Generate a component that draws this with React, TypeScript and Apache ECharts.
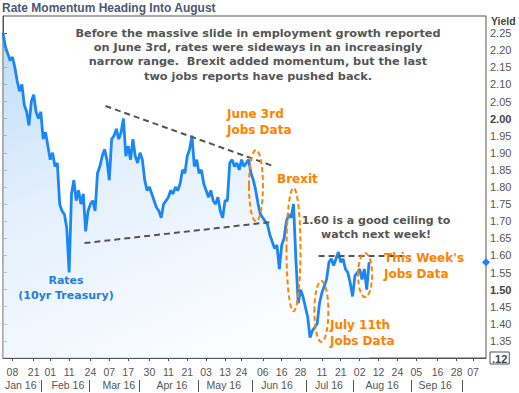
import React, { useEffect, useRef } from "react";
import * as echarts from "echarts";

// Weekday index 0 = Mon Jan 4 2016 (weekends skipped)
const yields = [
  2.25, 2.21, 2.19, 2.17, 2.18, 2.15, 2.11, 2.08, 2.10, 2.04,
  2.02, 1.98, 2.05, 2.07, 2.02, 2.00, 2.02, 1.94, 1.96, 1.92,
  1.88, 1.90, 1.86, 1.87, 1.75, 1.73, 1.72, 1.68, 1.55, 1.78,
  1.82, 1.76, 1.79, 1.75, 1.78, 1.67, 1.73, 1.75, 1.76, 1.73,
  1.84, 1.86, 1.89, 1.91, 1.88, 1.82, 1.94, 1.95, 1.97, 1.94,
  1.96, 2.00, 1.89, 1.92, 1.88, 1.94, 1.89, 1.87, 1.90, 1.88,
  1.82, 1.79, 1.80, 1.78, 1.76, 1.74, 1.73, 1.71, 1.75, 1.76,
  1.77, 1.79, 1.78, 1.80, 1.79, 1.81, 1.85, 1.84, 1.89, 1.91,
  1.95, 1.86, 1.88, 1.84, 1.85, 1.81, 1.79, 1.77, 1.79, 1.76,
  1.75, 1.77, 1.73, 1.71, 1.76, 1.76, 1.87, 1.88, 1.86, 1.87,
  1.85, 1.88, 1.86, 1.87, 1.88, 1.84, 1.82, 1.79, 1.75, 1.72,
  1.71, 1.70, 1.69, 1.66, 1.64, 1.62, 1.63, 1.56, 1.63, 1.65,
  1.70, 1.72, 1.71, 1.75, 1.59, 1.46, 1.50, 1.48, 1.45, 1.42,
  1.36, 1.38, 1.39, 1.40, 1.46, 1.49, 1.51, 1.53, 1.58, 1.59,
  1.57, 1.59, 1.61, 1.58, 1.59, 1.56, 1.55, 1.52, 1.48, 1.54,
  1.55, 1.56, 1.53, 1.56, 1.50, 1.58,
];

const dateTickIdx = [4, 13, 20, 28, 37, 45, 53, 62, 70, 78, 86, 94, 101, 110, 118, 126, 135, 143, 151, 159, 167, 175, 184, 192, 199];
const dateTickLabels = ["08", "21", "01", "11", "24", "07", "17", "30", "11", "21", "03", "13", "24", "06", "16", "28", "11", "21", "02", "12", "24", "05", "16", "28", "07"];
const monthLabelIdx = [7.5, 27.5, 49, 71.5, 93.5, 116, 138, 160.5, 183];
const monthLabels = ["Jan 16", "Feb 16", "Mar 16", "Apr 16", "May 16", "Jun 16", "Jul 16", "Aug 16", "Sep 16"];
const monthSepIdx = [16, 36.5, 57.5, 82.5, 105.5, 128.5, 148.5, 173, 194.5];

const X_MIN = 0;
const X_MAX = 204.5;
const Y_MIN = 1.3;
const Y_MAX = 2.3;

// trend lines [w1, v1, w2, v2]
const upperTrend = [43.4, 2.037, 114.5, 1.861];
const lowerTrend = [34.5, 1.636, 114.1, 1.698];
const ceilingLine = [133.6, 1.6, 172.5, 1.6];

// highlighted events: weekday index, top and bottom yields
const eventEllipses = [
  { w: 107.1, top: 1.908, bottom: 1.7 },
  { w: 123, top: 1.797, bottom: 1.437 },
  { w: 134.8, top: 1.525, bottom: 1.347 },
  { w: 153.3, top: 1.607, bottom: 1.478 },
];

const ORANGE = "#ff8200";
const GRAY = "#555555";
const BLUE = "#1a87f5";
const AX_FONT = "Liberation Sans";
const BOLD_FONT = "DejaVu Sans";

export default function App() {
  const ref = useRef<HTMLDivElement>(null);
  useEffect(() => {
    const chart = echarts.init(ref.current!, undefined, { renderer: "svg" });
    const dayMap = new Map(dateTickIdx.map((v, i) => [v, dateTickLabels[i]]));
    const monMap = new Map(monthLabelIdx.map((v, i) => [v, monthLabels[i]]));
    const last = yields[yields.length - 1];

    const option: any = {
      animation: false,
      backgroundColor: "#ffffff",
      grid: {
        left: 3,
        right: 33,
        top: 16,
        bottom: 35,
        show: true,
        borderColor: GRAY,
        borderWidth: 1,
        backgroundColor: "transparent",
      },
      xAxis: [
        {
          type: "value",
          min: X_MIN,
          max: X_MAX,
          axisLine: { show: true, lineStyle: { color: GRAY } },
          splitLine: { show: false },
          axisTick: { show: true, customValues: dateTickIdx, length: 3, lineStyle: { color: GRAY } },
          axisLabel: {
            customValues: dateTickIdx,
            formatter: (v: number) => dayMap.get(v) ?? "",
            color: GRAY,
            fontFamily: AX_FONT,
            fontSize: 10.5,
            margin: 8,
          },
        },
        {
          type: "value",
          min: X_MIN,
          max: X_MAX,
          position: "bottom",
          offset: 22,
          axisLine: { show: false },
          splitLine: { show: false },
          axisTick: { show: true, customValues: monthSepIdx, length: 12, lineStyle: { color: GRAY } },
          axisLabel: {
            customValues: monthLabelIdx,
            formatter: (v: number) => monMap.get(v) ?? "",
            color: GRAY,
            fontFamily: AX_FONT,
            fontSize: 10.5,
            margin: 5,
            verticalAlign: "middle",
          },
        },
      ],
      yAxis: {
        type: "value",
        position: "right",
        min: Y_MIN,
        max: Y_MAX,
        interval: 0.05,
        axisLine: { show: true, lineStyle: { color: GRAY } },
        splitLine: { show: false },
        axisTick: { show: true, length: 4, lineStyle: { color: GRAY } },
        axisLabel: {
          showMaxLabel: false,
          margin: 4,
          color: GRAY,
          fontFamily: AX_FONT,
          fontSize: 11,
          formatter: (v: number) => {
            if (Math.abs(v - 1.3) < 1e-6) return "{box|.12}";
            if (Math.abs(v - 2.0) < 1e-6 || Math.abs(v - 1.5) < 1e-6) return "{b|" + v.toFixed(2) + "}";
            return v.toFixed(2);
          },
          rich: {
            b: { fontWeight: "bold", color: "#444", fontFamily: AX_FONT, fontSize: 11 },
            box: {
              fontWeight: "bold",
              color: "#444",
              fontFamily: AX_FONT,
              fontSize: 11,
              borderColor: GRAY,
              borderWidth: 1,
              padding: [1, 2, 0, 2],
            },
          },
        },
      },
      series: [
        {
          type: "line",
          data: yields.map((v, i) => [i, v]),
          symbol: "none",
          lineStyle: { color: BLUE, width: 2.8 },
          areaStyle: {
            color: new echarts.graphic.LinearGradient(0, 0, 0.5, 1, [
              { offset: 0, color: "#a4cdf6" },
              { offset: 0.45, color: "#d7e9fb" },
              { offset: 1, color: "#f8fbff" },
            ]),
          },
          markLine: {
            silent: true,
            symbol: "none",
            label: { show: false },
            lineStyle: { color: GRAY, type: [6, 4], width: 2 },
            data: [upperTrend, lowerTrend, ceilingLine].map((t) => [
              { coord: [t[0], t[1]] },
              { coord: [t[2], t[3]] },
            ]),
          },
          markPoint: {
            silent: true,
            symbol: "diamond",
            symbolSize: 8,
            itemStyle: { color: BLUE },
            label: { show: false },
            data: [{ coord: [X_MAX, last] }],
          },
        },
      ],
    };
    chart.setOption(option);

    const px = (w: number, v: number) => chart.convertToPixel({ seriesIndex: 0 }, [w, v]) as number[];
    const ellipses = eventEllipses.map((e) => {
      const a = px(e.w, e.top);
      const b = px(e.w, e.bottom);
      return {
        type: "ellipse",
        z: 20,
        shape: { cx: a[0], cy: (a[1] + b[1]) / 2, rx: 7, ry: (b[1] - a[1]) / 2 },
        style: { fill: "none", stroke: ORANGE, lineWidth: 2, lineDash: [5, 3] },
      };
    });

    const txt = (x: number, y: number, text: string, o: any) => ({
      type: "text",
      x,
      y,
      z: 30,
      style: {
        text,
        fontFamily: BOLD_FONT,
        fontWeight: "bold",
        verticalAlign: "middle",
        ...o,
      },
    });

    const texts = [
      txt(2, 8, "Rate Momentum Heading Into August", {
        fill: "#4a5874", fontFamily: AX_FONT, fontSize: 12, align: "left",
      }),
      txt(491, 21, "Yield", { fill: "#444", fontFamily: AX_FONT, fontSize: 10.5, align: "left" }),
      txt(258, 26,
        "Before the massive slide in employment growth reported\non June 3rd, rates were sideways in an increasingly\nnarrow range.  Brexit added momentum, but the last\ntwo jobs reports have pushed back.",
        { fill: "#555", fontSize: 11.3, align: "center", verticalAlign: "top", lineHeight: 14.3 }),
      txt(227, 122, "June 3rd\nJobs Data", { fill: ORANGE, fontSize: 12, align: "left", lineHeight: 16 }),
      txt(277, 179, "Brexit", { fill: ORANGE, fontSize: 12, align: "left" }),
      txt(376, 227, "1.60 is a good ceiling to\nwatch next week!", {
        fill: "#555", fontSize: 11, align: "center", lineHeight: 14,
      }),
      txt(384, 266, "This Week's\nJobs Data", { fill: ORANGE, fontSize: 12, align: "left", lineHeight: 15.5 }),
      txt(330, 333, "July 11th\nJobs Data", { fill: ORANGE, fontSize: 12, align: "left", lineHeight: 15.5 }),
      txt(66, 288, "Rates\n(10yr Treasury)", { fill: "#1f7fe0", fontSize: 11, align: "center", lineHeight: 15 }),
    ];

    chart.setOption({ graphic: [...ellipses, ...texts] });
    return () => chart.dispose();
  }, []);
  return <div ref={ref} style={{ position: "absolute", left: 0, top: 0, width: 519, height: 393 }} />;
}
